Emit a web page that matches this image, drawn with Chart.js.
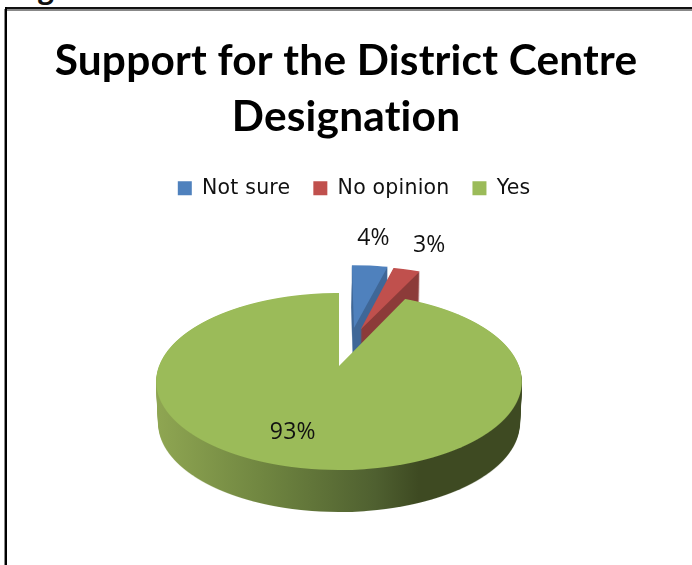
<!DOCTYPE html>
<html>
<head>
<meta charset="utf-8">
<style>
html,body{margin:0;padding:0;background:#fff;width:692px;height:565px;overflow:hidden}
#wrap{position:relative;width:692px;height:565px;overflow:hidden}
canvas{position:absolute;left:0;top:0}
.fT1{position:absolute;left:5px;top:7px;width:687px;height:2px;background:#111}
.fT2{position:absolute;left:5px;top:9px;width:687px;height:2px;background:#888}
.fL1{position:absolute;left:5px;top:7px;width:2px;height:558px;background:#000}
.fL2{position:absolute;left:4px;top:9px;width:1px;height:556px;background:#888}
#frag{position:absolute;left:38px;top:-29px;font:bold 28px "Open Sans",sans-serif;color:#111;line-height:32px}
</style>
<script src="https://cdn.jsdelivr.net/npm/chart.js@4/dist/chart.umd.min.js"></script>
</head>
<body>
<div id="wrap">
<div id="frag">g</div>
<div class="fT1"></div><div class="fT2"></div><div class="fL1"></div><div class="fL2"></div>
<canvas id="c" width="692" height="565"></canvas>
</div>
<script>
const titleLines = ['Support for the District Centre', 'Designation'];
const categories = ['Not sure', 'No opinion', 'Yes'];
const shares = [4, 3, 93];
const sliceColors = ['#4F81BD', '#C0504D', '#9BBB59'];
const wallColors = ['#3F6797', '#8C3B39'];
const explodeAcross = [0.09, 0.13, 0];
const explodeBack = [0.48, 0.46, 0];
const labelNudge = [[8, -44], [35, -40], [-15, 0]];

const W = 692, H = 565;
const RADIUS = 100;
// perspective of the pie's ground plane, in canvas pixels
const apexX = 339, apexY = 366, persp = 0.175, depthA = 85.8, widthB = 180, wallH = 42;

function project(u, v) {
  const d = 1 + persp * v;
  return [apexX + widthB * u / d, apexY - depthA * v / d];
}

function drawFace(ctx, el, i) {
  const cx = el.x, cy = el.y, R = el.outerRadius;
  for (let y = 240; y < 490; y++) {
    const h = apexY - (y + 0.5);
    const v = h / (depthA - h * persp);
    const d = 1 + persp * v;
    if (d <= 0.1) continue;
    const k = widthB / d, s = depthA / (d * d);
    ctx.save();
    ctx.setTransform(1, 0, 0, 1, 0, 0);
    ctx.beginPath();
    ctx.rect(0, y, W, 1);
    ctx.clip();
    ctx.setTransform(k / R, 0, 0, s / R, apexX - k * cx / R, (y + 0.5) - s * (cy / R - v));
    ctx.translate(explodeAcross[i] * R, -explodeBack[i] * R);
    el.draw(ctx);
    ctx.restore();
  }
}

function offscreen() {
  const c = document.createElement('canvas');
  c.width = W; c.height = H;
  return c;
}

function drawWall(ctx, face, paint) {
  const c = offscreen(), g = c.getContext('2d');
  for (let z = 1; z <= wallH; z++) {
    const sc = 1 - 0.012 * z / wallH;
    g.setTransform(sc, 0, 0, 1, apexX * (1 - sc), z);
    g.drawImage(face, 0, 0);
  }
  g.setTransform(1, 0, 0, 1, 0, 0);
  g.globalCompositeOperation = 'source-in';
  g.fillStyle = paint;
  g.fillRect(0, 0, W, H);
  ctx.drawImage(c, 0, 0);
}

const pie3d = {
  id: 'pie3d',
  beforeDraw(chart) {
    // also switches off the font's "ti" ligature, as in the reference
    chart.ctx.letterSpacing = '0.2px';
  },
  afterLayout(chart) {
    chart.legend.left += 6;
    chart.legend.right += 6;
  },
  beforeDatasetDraw(chart, args) {
    const ctx = chart.ctx, arcs = args.meta.data;
    const greenWall = ctx.createLinearGradient(156, 0, 521, 0);
    greenWall.addColorStop(0, '#8FA652');
    greenWall.addColorStop(0.3, '#6F8540');
    greenWall.addColorStop(0.6, '#4F6030');
    greenWall.addColorStop(0.72, '#3E4A22');
    greenWall.addColorStop(1, '#3E4A22');
    const paints = [wallColors[0], wallColors[1], greenWall];
    arcs.forEach((el, i) => {
      const c = offscreen(), g = c.getContext('2d');
      drawFace(g, el, i);
      drawWall(ctx, c, paints[i]);
      ctx.drawImage(c, 0, 0);
    });
    ctx.save();
    ctx.font = '23px "Open Sans", sans-serif';
    ctx.fillStyle = '#111';
    ctx.textAlign = 'center';
    ctx.textBaseline = 'middle';
    arcs.forEach((el, i) => {
      const mid = (el.startAngle + el.endAngle) / 2;
      const p = project(explodeAcross[i] + Math.cos(mid) * 0.7, explodeBack[i] - Math.sin(mid) * 0.7);
      ctx.fillText(shares[i] + '%', p[0] + labelNudge[i][0], p[1] + labelNudge[i][1]);
    });
    ctx.restore();
    return false;
  }
};

new Chart(document.getElementById('c'), {
  type: 'pie',
  data: {
    labels: categories,
    datasets: [{
      data: shares,
      backgroundColor: sliceColors,
      borderWidth: 0
    }]
  },
  options: {
    responsive: false,
    animation: false,
    radius: RADIUS,
    layout: { padding: { top: 33, left: 0, right: 0, bottom: 0 } },
    plugins: {
      tooltip: { enabled: false },
      title: {
        display: true,
        text: titleLines,
        color: '#000',
        font: { family: 'Lato', size: 42.4, weight: 'bold', lineHeight: 1.32 },
        padding: { top: 0, bottom: 10 }
      },
      legend: {
        display: true,
        position: 'top',
        labels: {
          color: '#111',
          boxWidth: 14,
          boxHeight: 14,
          padding: 23,
          font: { family: 'DejaVu Sans', size: 20.5 }
        }
      }
    }
  },
  plugins: [pie3d]
});
</script>
</body>
</html>
